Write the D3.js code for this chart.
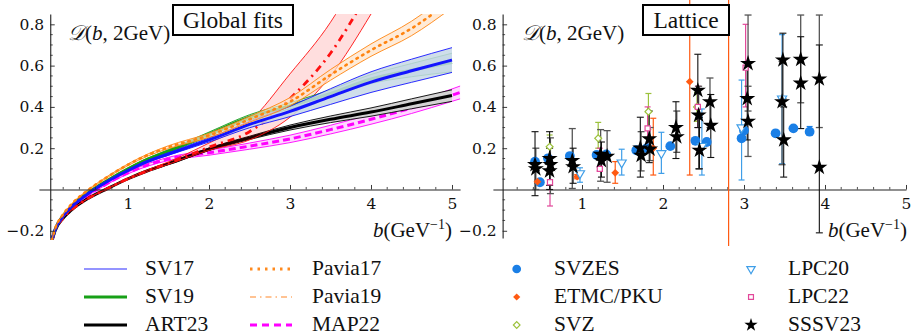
<!DOCTYPE html>
<html>
<head>
<meta charset="utf-8">
<script src="https://cdn.jsdelivr.net/npm/d3@7"></script>
<style>
  html, body { margin: 0; padding: 0; background: #fff; }
  svg { display: block; }
  text { font-family: "Liberation Serif", "DejaVu Serif", serif; fill: #111; }
  .tick text { font-family: "DejaVu Serif", serif; font-size: 15.5px; fill: #111; }
</style>
</head>
<body>
<svg id="chart" width="913" height="334"></svg>
<script>
// ------------------------------------------------------------
// D(b, 2GeV): global fits (left) vs lattice points (right)
// ------------------------------------------------------------

// Left panel — values at these b values
const bGrid = [0.06, 0.1, 0.2, 0.3, 0.5, 0.75, 1, 1.25, 1.5, 2, 2.5, 3, 3.5, 4, 4.5, 5];

const sv17      = [-0.245, -0.195, -0.128, -0.085, -0.022, 0.04, 0.092, 0.137, 0.172, 0.24, 0.315, 0.378, 0.45, 0.52, 0.575, 0.627];
const sv17Err   = [0, 0, 0, 0, 0.002, 0.003, 0.004, 0.005, 0.006, 0.01, 0.016, 0.025, 0.038, 0.05, 0.056, 0.06];
const sv19      = [-0.245, -0.194, -0.126, -0.082, -0.018, 0.045, 0.1, 0.148, 0.186, 0.268, 0.35, 0.405, 0.465, 0.535, 0.578, 0.615];
const sv19Err   = [0, 0, 0, 0, 0.002, 0.003, 0.004, 0.005, 0.007, 0.01, 0.012, 0.015, 0.018, 0.022, 0.032, 0.045];
const art23     = [-0.25, -0.2, -0.138, -0.1, -0.045, 0.005, 0.052, 0.092, 0.125, 0.195, 0.25, 0.3, 0.34, 0.375, 0.415, 0.455];
const art23Err  = [0, 0, 0, 0, 0.002, 0.002, 0.003, 0.003, 0.004, 0.006, 0.008, 0.012, 0.016, 0.02, 0.024, 0.028];
const pavia17   = [-0.245, -0.19, -0.12, -0.072, -0.005, 0.062, 0.12, 0.168, 0.205, 0.262, 0.34, 0.425, 0.555, 0.675, 0.78, 0.92];
const pavia17Err = [0, 0, 0, 0, 0.002, 0.003, 0.004, 0.005, 0.007, 0.01, 0.014, 0.02, 0.026, 0.03, 0.035, 0.04];

const bMap      = [0.06, 0.1, 0.2, 0.3, 0.5, 0.75, 1, 1.25, 1.5, 2, 2.5, 3, 3.5, 4, 4.5, 5, 5.1];
const map22     = [-0.245, -0.196, -0.13, -0.09, -0.03, 0.03, 0.08, 0.12, 0.148, 0.178, 0.21, 0.245, 0.29, 0.34, 0.395, 0.457, 0.47];
const map22Err  = [0, 0, 0, 0, 0.002, 0.003, 0.004, 0.006, 0.008, 0.012, 0.015, 0.018, 0.021, 0.024, 0.027, 0.03, 0.031];

const bPavia19  = [0.06, 0.1, 0.2, 0.3, 0.5, 0.75, 1, 1.25, 1.5, 2, 2.5, 3, 3.5, 4];
const pavia19   = [-0.25, -0.2, -0.138, -0.1, -0.045, 0.005, 0.052, 0.092, 0.127, 0.205, 0.28, 0.44, 0.66, 0.98];
const pavia19Lo = [-0.25, -0.2, -0.138, -0.1, -0.046, 0.003, 0.049, 0.088, 0.122, 0.19, 0.24, 0.35, 0.55, 0.85];
const pavia19Hi = [-0.25, -0.2, -0.138, -0.1, -0.044, 0.007, 0.055, 0.096, 0.134, 0.225, 0.33, 0.56, 0.81, 1.15];

// Right panel — lattice points: [b, value, errLow, errHigh]
const svzes = [
  [0.42, 0.135, 0.125, 0.145], [0.48, 0.035, 0.03, 0.04], [0.58, 0.151, 0.14, 0.16],
  [0.85, 0.162, 0.15, 0.172], [1.18, 0.167, 0.155, 0.178], [1.30, 0.17, 0.16, 0.18],
  [1.67, 0.19, 0.18, 0.2], [1.80, 0.2, 0.19, 0.21], [2.09, 0.21, 0.2, 0.22],
  [2.40, 0.236, 0.225, 0.246], [2.54, 0.23, 0.22, 0.24], [2.97, 0.248, 0.235, 0.26],
  [3.00, 0.286, 0.275, 0.297], [3.39, 0.272, 0.26, 0.284], [3.61, 0.296, 0.285, 0.307],
  [3.81, 0.28, 0.265, 0.305]
];
const etmc = [
  [0.45, 0.038, 0.03, 0.046], [0.94, 0.062, 0.052, 0.072], [1.41, 0.081, 0.03, 0.135],
  [1.88, 0.2, 0.07, 0.345], [2.33, 0.522, 0.07, 0.95], [2.81, 1.3, -0.3, 3.0]
];
const svz = [
  [0.60, 0.207, 0.15, 0.264], [1.20, 0.248, 0.2, 0.325], [1.82, 0.377, 0.29, 0.465], [2.42, 0.40, 0.33, 0.47]
];
const lpc20 = [
  [0.975, 0.078, 0.035, 0.105], [1.49, 0.13, 0.07, 0.195], [1.98, 0.175, 0.078, 0.277],
  [2.48, 0.21, 0.07, 0.39], [2.97, 0.30, 0.046, 0.53], [3.47, 0.44, 0.125, 0.75]
];
const lpc22 = [
  [0.605, 0.035, -0.08, 0.16], [1.22, 0.1, 0.09, 0.2], [1.81, 0.296, 0.2, 0.4],
  [2.43, 0.40, 0.3, 0.5], [3.02, 0.59, 0.4, 0.8]
];
const sssv23 = [
  [0.42, 0.12, -0.03, 0.28], [0.43, 0.10, 0.0, 0.2],
  [0.60, 0.15, 0.0, 0.28], [0.61, 0.12, -0.02, 0.25], [0.60, 0.09, 0.02, 0.2],
  [0.88, 0.14, 0.005, 0.295], [0.89, 0.11, 0.03, 0.2],
  [1.23, 0.17, 0.04, 0.29], [1.24, 0.14, 0.06, 0.23], [1.31, 0.16, 0.035, 0.285],
  [1.72, 0.2, 0.06, 0.35], [1.73, 0.165, 0.09, 0.28],
  [1.83, 0.245, 0.13, 0.38], [1.84, 0.195, 0.14, 0.3],
  [2.16, 0.30, 0.15, 0.425], [2.17, 0.255, 0.18, 0.38],
  [2.43, 0.48, 0.3, 0.655], [2.44, 0.36, 0.1, 0.5], [2.45, 0.19, 0.1, 0.35],
  [2.58, 0.425, 0.3, 0.54], [2.59, 0.31, 0.155, 0.46],
  [3.05, 0.61, 0.38, 0.845], [3.04, 0.44, 0.24, 0.62], [3.05, 0.33, 0.16, 0.5],
  [3.48, 0.627, 0.44, 0.757], [3.47, 0.425, 0.12, 0.62], [3.49, 0.24, 0.06, 0.4],
  [3.70, 0.63, 0.42, 0.845], [3.70, 0.515, 0.295, 0.74],
  [3.93, 0.535, 0.3, 0.845], [3.93, 0.107, -0.21, 0.7]
];

const yTicks = [-0.2, 0.2, 0.4, 0.6, 0.8];
const xTicks = [1, 2, 3, 4, 5];

const leftLegend = [
  { name: "SV17",    color: "#2a2aff", width: 1.2, dash: null },
  { name: "SV19",    color: "#17a017", width: 3,   dash: null },
  { name: "ART23",   color: "#000",    width: 3,   dash: null },
  { name: "Pavia17", color: "#ff8a1e", width: 3,   dash: "2.5,5" },
  { name: "Pavia19", color: "#ffb070", width: 1.5, dash: "6,4,1.5,4" },
  { name: "MAP22",   color: "#ff00ff", width: 3,   dash: "7,5" },
];
const rightLegend = ["SVZES", "ETMC/PKU", "SVZ", "LPC20", "LPC22", "SSSV23"];

// ------------------------------------------------------------
const svg = d3.select("#chart");
const yScale = d3.scaleLinear().domain([-0.235, 0.85]).range([238, 14]);

function drawAxes(g, x, yAxisAt, xEnd) {
  const y0 = yScale(0);
  const xAxisG = g.append("g").attr("transform", `translate(0,${y0})`);
  xAxisG.call(d3.axisBottom(x).tickValues(xTicks).tickSize(-4.5).tickSizeOuter(0).tickPadding(9)
    .tickFormat(d3.format("d")));
  const minorX = d3.range(0, xEnd + 0.001, 0.2).filter(v => Math.abs(v - Math.round(v)) > 0.01);
  xAxisG.selectAll(".minor").data(minorX).join("line")
    .attr("x1", d => x(d)).attr("x2", d => x(d)).attr("y1", 0).attr("y2", -2.5)
    .attr("stroke", "#222").attr("stroke-width", 0.8);

  const yAxisG = g.append("g").attr("transform", `translate(${x(yAxisAt)},0)`);
  yAxisG.call(d3.axisLeft(yScale).tickValues(yTicks).tickSize(-4.5).tickSizeOuter(0).tickPadding(6)
    .tickFormat(d3.format(".1f")));
  const minorY = d3.range(-0.2, 0.85, 0.05).filter(v => Math.abs(v * 5 - Math.round(v * 5)) > 0.01);
  yAxisG.selectAll(".minor").data(minorY).join("line")
    .attr("x1", 0).attr("x2", 2.5).attr("y1", d => yScale(d)).attr("y2", d => yScale(d))
    .attr("stroke", "#222").attr("stroke-width", 0.8);

  g.selectAll(".domain").attr("stroke", "#222").attr("stroke-width", 1.1);
  g.selectAll(".tick line").attr("stroke", "#222").attr("stroke-width", 0.9);
}

function axisTitles(g, xLeft, xRight) {
  const t = g.append("text").attr("x", xLeft).attr("y", 40).attr("font-size", 21);
  t.append("tspan").attr("font-family", "DejaVu Serif").attr("font-style", "italic").text("𝒟");
  t.append("tspan").text("(");
  t.append("tspan").attr("font-style", "italic").text("b");
  t.append("tspan").text(", 2GeV)");

  const b = g.append("text").attr("x", xRight).attr("y", 237).attr("font-size", 21).attr("text-anchor", "end");
  b.append("tspan").attr("font-style", "italic").text("b");
  b.append("tspan").text("(GeV");
  b.append("tspan").attr("dy", -8).attr("font-size", 14).text("−1");
  b.append("tspan").attr("dy", 8).text(")");
}

function titleBox(g, x0, x1, label) {
  g.append("rect").attr("x", x0).attr("y", 5).attr("width", x1 - x0).attr("height", 30)
    .attr("fill", "#fff").attr("stroke", "#000").attr("stroke-width", 2);
  g.append("text").attr("x", (x0 + x1) / 2).attr("y", 28).attr("text-anchor", "middle")
    .attr("font-size", 23.5).text(label);
}

// ---------------- Left: global fits ----------------
const xL = d3.scaleLinear().domain([-0.1, 5.1]).range([38.9, 460.1]);
const gL = svg.append("g");

svg.append("clipPath").attr("id", "clipL").append("rect")
  .attr("x", xL(0)).attr("y", yScale(0.85)).attr("width", xL(5.12) - xL(0)).attr("height", 240 - yScale(0.85));

const curves = gL.append("g").attr("clip-path", "url(#clipL)");

function band(bs, center, lo, hi, opt) {
  const pts = bs.map((b, i) => ({ b, c: center[i], lo: lo[i], hi: hi[i] }));
  const area = d3.area().curve(d3.curveMonotoneX)
    .x(d => xL(d.b)).y0(d => yScale(d.lo)).y1(d => yScale(d.hi));
  const line = key => d3.line().curve(d3.curveMonotoneX).x(d => xL(d.b)).y(d => yScale(d[key]));
  curves.append("path").attr("d", area(pts)).attr("fill", opt.fill).attr("fill-opacity", opt.fillOpacity || 1);
  ["lo", "hi"].forEach(k => curves.append("path").attr("d", line(k)(pts))
    .attr("fill", "none").attr("stroke", opt.color).attr("stroke-width", 0.9));
  curves.append("path").attr("d", line("c")(pts))
    .attr("fill", "none").attr("stroke", opt.color).attr("stroke-width", opt.width)
    .attr("stroke-dasharray", opt.dash).attr("stroke-linecap", opt.cap || "butt");
}
const withErr = (c, e, s) => c.map((v, i) => v + s * e[i]);

band(bMap, map22, withErr(map22, map22Err, -1), withErr(map22, map22Err, 1),
  { color: "#ff00ff", fill: "#ffd6ff", width: 3, dash: "7,4" });
band(bGrid, art23, withErr(art23, art23Err, -1), withErr(art23, art23Err, 1),
  { color: "#000", fill: "#d4d4d4", width: 3 });
band(bPavia19, pavia19, pavia19Lo, pavia19Hi,
  { color: "#ff1010", fill: "#ff0000", fillOpacity: 0.13, width: 2.8, dash: "7,5,2,5" });
band(bGrid, sv19, withErr(sv19, sv19Err, -1), withErr(sv19, sv19Err, 1),
  { color: "#17a017", fill: "#c7dbe2", width: 3 });
band(bGrid, sv17, withErr(sv17, sv17Err, -1), withErr(sv17, sv17Err, 1),
  { color: "#1414ff", fill: "#c7d8e6", fillOpacity: 0.85, width: 3 });
band(bGrid, pavia17, withErr(pavia17, pavia17Err, -1), withErr(pavia17, pavia17Err, 1),
  { color: "#ff8410", fill: "#ffe3c8", fillOpacity: 0.7, width: 2.6, dash: "1.5,5", cap: "round" });

drawAxes(gL, xL, 0.04, 5);
axisTitles(gL, 68, 452);
titleBox(gL, 173, 293, "Global fits");

// ---------------- Right: lattice ----------------
const xR = d3.scaleLinear().domain([-0.1, 5.0]).range([492.9, 906]);
const gR = svg.append("g");
drawAxes(gR, xR, 0.02, 5);

svg.append("clipPath").attr("id", "clipR").append("rect")
  .attr("x", 460).attr("y", 0).attr("width", 453).attr("height", 246);
const pts = gR.append("g").attr("clip-path", "url(#clipR)");

function errorBars(data, color, width, capW) {
  const g = pts.append("g").attr("stroke", color).attr("stroke-width", width);
  data.forEach(([b, v, lo, hi]) => {
    const x = xR(b);
    g.append("line").attr("x1", x).attr("x2", x).attr("y1", yScale(lo)).attr("y2", yScale(hi));
    [lo, hi].forEach(e => g.append("line").attr("x1", x - capW).attr("x2", x + capW)
      .attr("y1", yScale(e)).attr("y2", yScale(e)));
  });
}
function markers(data, symbol, size, fill, stroke, rotate) {
  pts.append("g").selectAll("path").data(data).join("path")
    .attr("d", d3.symbol().type(symbol).size(size)())
    .attr("transform", d => `translate(${xR(d[0])},${yScale(d[1])}) rotate(${rotate || 0})`)
    .attr("fill", fill).attr("stroke", stroke).attr("stroke-width", stroke === "none" ? 0 : 1.2);
}

const C = { svzes: "#1a7fe6", etmc: "#ff5a12", svz: "#9cc23c", lpc20: "#3f9ee8", lpc22: "#e2489a", sssv: "#000" };

errorBars(svzes, C.svzes, 1.2, 3);
errorBars(etmc, C.etmc, 1.2, 3);
errorBars(svz, C.svz, 1.2, 3);
errorBars(lpc20, C.lpc20, 1.2, 3);
errorBars(lpc22, C.lpc22, 1.2, 3);
errorBars(sssv23.filter((d, i) => i % 2 === 1), "#555", 1.3, 3.5);
errorBars(sssv23.filter((d, i) => i % 2 === 0), "#111", 1.1, 3.5);

markers(svzes, d3.symbolCircle, 75, C.svzes, "none");
markers(etmc, d3.symbolSquare, 30, C.etmc, "none", 45);
markers(svz, d3.symbolSquare, 24, "#fff", C.svz, 45);
markers(lpc20, d3.symbolTriangle, 36, "#fff", C.lpc20, 180);
markers(lpc22, d3.symbolSquare, 26, "#fff", C.lpc22);
markers(sssv23, d3.symbolStar, 80, "#000", "none");

axisTitles(gR, 522, 907);
titleBox(gR, 643, 729, "Lattice");

// ---------------- Legends ----------------
const rowsY = [269, 297, 325];
const textY = [275, 303, 330.5];
const legL = svg.append("g");
leftLegend.forEach((d, i) => {
  const col = Math.floor(i / 3), row = i % 3;
  const x0 = col === 0 ? 84 : 250, x1 = col === 0 ? 127 : 292, tx = col === 0 ? 145 : 312;
  legL.append("line").attr("x1", x0).attr("x2", x1).attr("y1", rowsY[row]).attr("y2", rowsY[row])
    .attr("stroke", d.color).attr("stroke-width", d.width).attr("stroke-dasharray", d.dash);
  legL.append("text").attr("x", tx).attr("y", textY[row]).attr("font-size", 21.5).text(d.name);
});

const legR = svg.append("g");
const legSyms = [
  [d3.symbolCircle, 60, C.svzes, "none", 0],
  [d3.symbolSquare, 26, C.etmc, "none", 45],
  [d3.symbolSquare, 22, "#fff", C.svz, 45],
  [d3.symbolTriangle, 30, "#fff", C.lpc20, 180],
  [d3.symbolSquare, 24, "#fff", C.lpc22, 0],
  [d3.symbolStar, 55, "#000", "none", 0],
];
rightLegend.forEach((name, i) => {
  const col = Math.floor(i / 3), row = i % 3;
  const mx = col === 0 ? 516.7 : 751, tx = col === 0 ? 554 : 788;
  const [sym, size, fill, stroke, rot] = legSyms[i];
  legR.append("path").attr("d", d3.symbol().type(sym).size(size)())
    .attr("transform", `translate(${mx},${rowsY[row]}) rotate(${rot})`)
    .attr("fill", fill).attr("stroke", stroke).attr("stroke-width", stroke === "none" ? 0 : 1.2);
  legR.append("text").attr("x", tx).attr("y", textY[row]).attr("font-size", 21.5).text(name);
});
</script>
</body>
</html>
